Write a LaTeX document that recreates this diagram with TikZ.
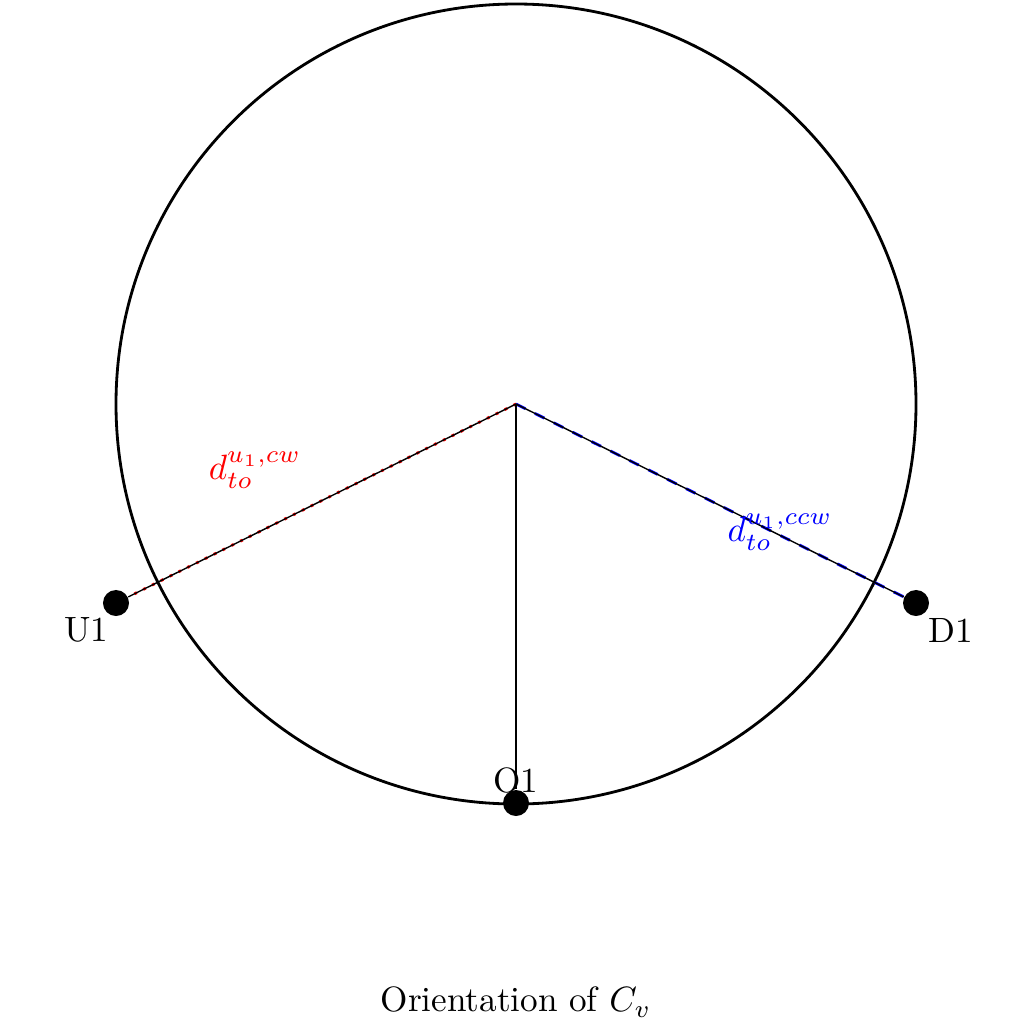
\documentclass[tikz,border=0pt]{standalone}
\begin{document}
\begin{tikzpicture}[x=0.01cm,y=-0.01cm,
  dot/.style={circle,fill=black,inner sep=0pt,minimum size=0.26cm},
  spoke/.style={black},
  cwline/.style={red,dotted,thick},
  ccwline/.style={blue,dashed,thick}]
\useasboundingbox (0,0) rectangle (1024,1024);
\coordinate (c) at (516,404);
\draw[thick] (c) circle (400);
\node[dot] (u1) at (116,603) {};
\node[dot] (d1) at (916,603) {};
\node[dot] (o1) at (516,803) {};
\draw[cwline] (c) -- (u1);
\draw[ccwline] (c) -- (d1);
\draw[spoke] (c) -- (u1);
\draw[spoke] (c) -- (d1);
\draw[spoke] (c) -- (o1);
\node (lu) at (86,630) {U1};
\node (ld) at (951,630) {D1};
\node (lo) at (516,780) {O1};
\node[red] (lcw) at (255,470) {$d_{to}^{u_1,cw}$};
\node[blue] (lccw) at (780,532) {$d_{to}^{u_1,ccw}$};
\node (cap) at (516,1002) {Orientation of $C_v$};
\end{tikzpicture}
\end{document}
